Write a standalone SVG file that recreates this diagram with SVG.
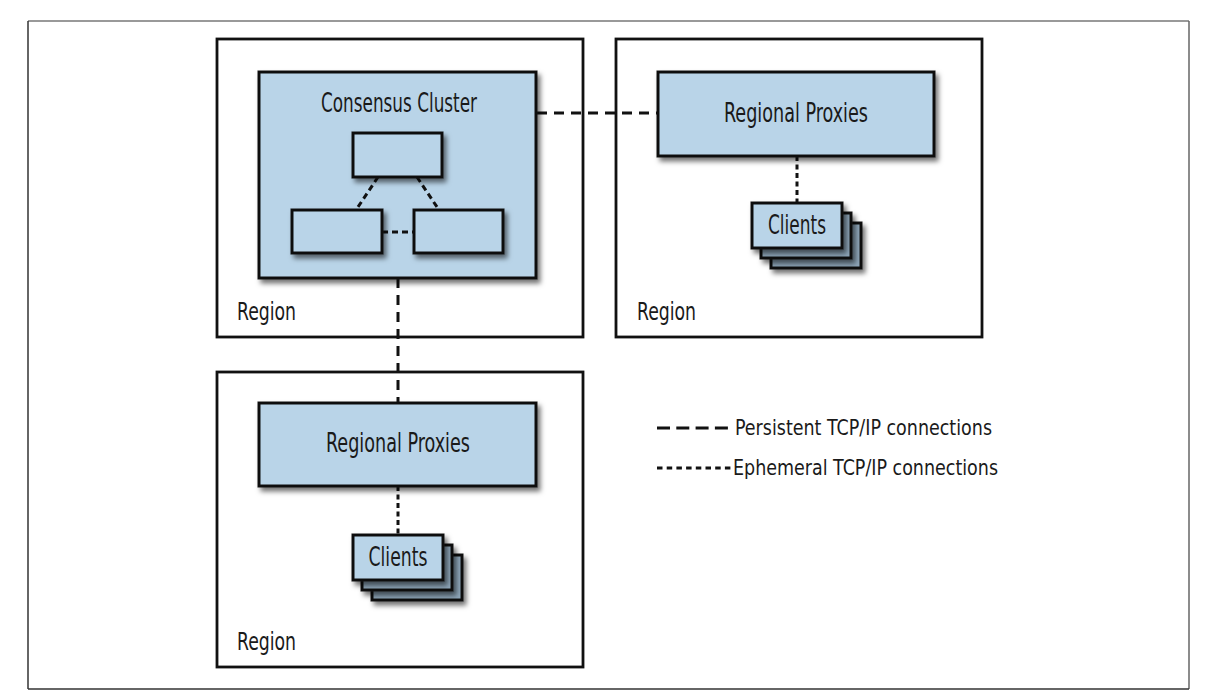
<svg xmlns="http://www.w3.org/2000/svg" width="1226" height="698" viewBox="0 0 1226 698">
<defs>
<filter id="sh" x="-20%" y="-20%" width="140%" height="150%">
<feDropShadow dx="3" dy="4" stdDeviation="2.5" flood-color="#000" flood-opacity="0.55"/>
</filter>
</defs>
<style>
text{font-family:"Liberation Sans Narrow","DejaVu Sans Condensed","Liberation Sans",sans-serif;fill:#1a1a1a}
.region{fill:#fff;stroke:#111;stroke-width:2.8}
.box{fill:#b9d4e8;stroke:#111;stroke-width:3;filter:url(#sh)}
.stack{fill:#8ea6b9;stroke:#111;stroke-width:3;filter:url(#sh)}
.lbl{font-size:26px;text-anchor:middle}
.rlbl{font-size:25px}
.leg{font-size:21px}
.persist{fill:none;stroke:#111;stroke-width:3;stroke-dasharray:10 7}
.inner{fill:none;stroke:#111;stroke-width:3;stroke-dasharray:6 4}
.eph{fill:none;stroke:#111;stroke-width:3;stroke-dasharray:5 3.5}
</style>
<rect x="0" y="0" width="1226" height="698" fill="#fff"/>
<g id="frame">
<line x1="28" y1="21" x2="1189" y2="21" stroke="#999" stroke-width="2"/>
<line x1="1189" y1="21" x2="1189" y2="689" stroke="#666" stroke-width="1.5"/>
<line x1="28" y1="21" x2="28" y2="689" stroke="#333" stroke-width="1.5"/>
<line x1="28" y1="689" x2="1189" y2="689" stroke="#333" stroke-width="1.5"/>
</g>
<g id="region-top-left">
<rect class="region" x="217" y="39" width="366" height="298"/>
<text class="rlbl" x="237" y="320" textLength="59" lengthAdjust="spacingAndGlyphs">Region</text>
</g>
<g id="region-top-right">
<rect class="region" x="616" y="39" width="366" height="298"/>
<text class="rlbl" x="637" y="320" textLength="59" lengthAdjust="spacingAndGlyphs">Region</text>
</g>
<g id="region-bottom">
<rect class="region" x="217" y="372" width="366" height="295"/>
<text class="rlbl" x="237" y="650" textLength="59" lengthAdjust="spacingAndGlyphs">Region</text>
</g>
<g id="connectors">
<line class="persist" x1="537" y1="113" x2="657" y2="113"/>
<line class="persist" x1="398" y1="278" x2="398" y2="403"/>
<line class="eph" x1="797" y1="156" x2="797" y2="203"/>
<line class="eph" x1="398" y1="486" x2="398" y2="535"/>
</g>
<g id="consensus-cluster">
<rect class="box" x="259" y="72" width="277" height="206"/>
<text class="lbl" x="399" y="112" textLength="156" lengthAdjust="spacingAndGlyphs">Consensus Cluster</text>
<g id="cluster-connectors">
<line class="inner" x1="378" y1="177" x2="356" y2="210"/>
<line class="inner" x1="417" y1="177" x2="439" y2="210"/>
<line class="inner" x1="382" y1="232" x2="414" y2="232"/>
</g>
<g id="node-top"><rect class="box" x="353" y="133" width="89" height="44"/></g>
<g id="node-left"><rect class="box" x="292" y="210" width="90" height="43"/></g>
<g id="node-right"><rect class="box" x="414" y="210" width="89" height="43"/></g>
</g>
<g id="proxies-right">
<rect class="box" x="658" y="72" width="276" height="84"/>
<text class="lbl" x="796" y="122" textLength="144" lengthAdjust="spacingAndGlyphs">Regional Proxies</text>
</g>
<g id="clients-right">
<rect class="stack" x="771" y="223" width="90" height="45"/>
<rect class="stack" x="761" y="213" width="90" height="45"/>
<rect class="box" x="752" y="203" width="90" height="45"/>
<text class="lbl" x="797" y="234" font-size="25" textLength="58" lengthAdjust="spacingAndGlyphs">Clients</text>
</g>
<g id="proxies-bottom">
<rect class="box" x="259" y="403" width="277" height="83"/>
<text class="lbl" x="398" y="452" textLength="144" lengthAdjust="spacingAndGlyphs">Regional Proxies</text>
</g>
<g id="clients-bottom">
<rect class="stack" x="372" y="555" width="90" height="45"/>
<rect class="stack" x="362" y="545" width="90" height="45"/>
<rect class="box" x="353" y="535" width="90" height="45"/>
<text class="lbl" x="398" y="566" font-size="25" textLength="59" lengthAdjust="spacingAndGlyphs">Clients</text>
</g>
<g id="legend">
<line x1="657" y1="428" x2="731" y2="428" stroke="#111" stroke-width="3" stroke-dasharray="13 6.3"/>
<text class="leg" x="735" y="435" textLength="257" lengthAdjust="spacingAndGlyphs">Persistent TCP/IP connections</text>
<line x1="657" y1="468" x2="732" y2="468" stroke="#111" stroke-width="3" stroke-dasharray="5.5 4.2"/>
<text class="leg" x="733" y="475" textLength="265" lengthAdjust="spacingAndGlyphs">Ephemeral TCP/IP connections</text>
</g>
</svg>
